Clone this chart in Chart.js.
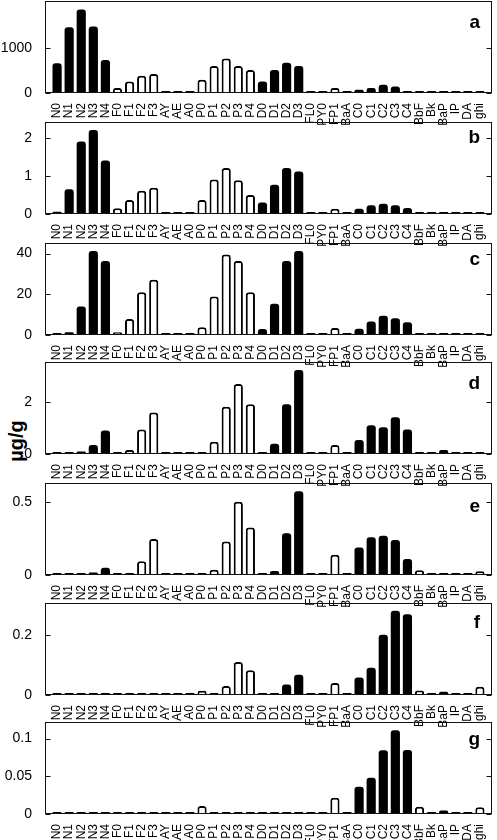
<!DOCTYPE html>
<html>
<head>
<meta charset="utf-8">
<script src="https://cdn.jsdelivr.net/npm/chart.js@4.4.1/dist/chart.umd.min.js"></script>
<style>
  body { margin: 0; background: #fff; }
  #fig { position: relative; width: 497px; height: 840px; overflow: hidden; font-family: 'Liberation Sans', Arial, Helvetica, sans-serif; }
  .panel { position: absolute; left: 0; }
  .tag { position: absolute; right: 17px; font-weight: bold; font-size: 19px; line-height: 20px; color: #000; }
  #ylab { position: absolute; left: -14px; top: 431px; width: 60px; text-align: center; font-weight: bold; font-size: 20px; line-height: 20px; transform: rotate(-90deg); }
</style>
</head>
<body>
<div id="fig">
  <div id="ylab">µg/g</div>
</div>
<script>
const compounds = ['N0','N1','N2','N3','N4','F0','F1','F2','F3','AY','AE','A0',
  'P0','P1','P2','P3','P4','D0','D1','D2','D3','FL0','PY0','FP1','BaA',
  'C0','C1','C2','C3','C4','BbF','Bk','BaP','IP','DA','ghi'];

// bars drawn hollow (white with black edge)
const hollow = ['F0','F1','F2','F3','P0','P1','P2','P3','P4','FP1','BbF','ghi'];

const panelA = [657, 1460, 1850, 1475, 730, 110, 255, 380, 423, 5, 20, 5,
  292, 600, 767, 600, 511, 255, 511, 672, 600, 28, 36, 110, 21,
  73, 110, 183, 146, 10, 10, 5, 5, 10, 10, 5];
const panelB = [0.06, 0.65, 1.91, 2.21, 1.41, 0.15, 0.37, 0.61, 0.69, 0.05, 0.02, 0.02,
  0.37, 0.91, 1.21, 0.89, 0.50, 0.30, 0.77, 1.21, 1.12, 0.02, 0.03, 0.14, 0.03,
  0.14, 0.23, 0.27, 0.23, 0.16, 0.01, 0.03, 0.05, 0.01, 0.01, 0.03];
const panelC = [0.3, 1.3, 14, 41.3, 36.4, 1.3, 7.9, 21, 27.2, 0.3, 0.3, 0.3,
  3.8, 18.9, 39.5, 36.4, 21, 3, 15.3, 36.4, 41.3, 0.3, 0.5, 3.5, 0.3,
  3.1, 6.6, 9.5, 8.2, 6.3, 0.5, 0.2, 1, 0.2, 0.2, 0.3];
const panelD = [0.01, 0.04, 0.1, 0.34, 0.9, 0.01, 0.15, 0.94, 1.59, 0.01, 0.01, 0.04,
  0.08, 0.47, 1.81, 2.68, 1.9, 0.04, 0.39, 1.9, 3.21, 0.04, 0.04, 0.34, 0.02,
  0.54, 1.1, 1.02, 1.41, 0.94, 0.01, 0.01, 0.15, 0.01, 0.01, 0.05];
const panelE = [0.002, 0.005, 0.009, 0.018, 0.05, 0.002, 0.009, 0.095, 0.247, 0.002, 0.002, 0.002,
  0.009, 0.036, 0.23, 0.504, 0.327, 0.009, 0.027, 0.288, 0.577, 0.009, 0.002, 0.14, 0.002,
  0.19, 0.259, 0.27, 0.24, 0.11, 0.032, 0.002, 0.007, 0.002, 0.009, 0.025];
const panelF = [0.005, 0.001, 0.001, 0.001, 0.001, 0.001, 0.001, 0.001, 0.001, 0.001, 0.001, 0.001,
  0.014, 0.001, 0.03, 0.109, 0.082, 0.001, 0.001, 0.035, 0.067, 0.001, 0.001, 0.04, 0.001,
  0.058, 0.09, 0.2, 0.279, 0.268, 0.015, 0.001, 0.011, 0.001, 0.001, 0.027];
const panelG = [0.0003, 0.0003, 0.0003, 0.0003, 0.0003, 0.0003, 0.0003, 0.0003, 0.0003, 0.0003, 0.0003, 0.0003,
  0.0106, 0.0003, 0.0003, 0.0003, 0.0003, 0.0003, 0.0003, 0.0003, 0.0003, 0.0003, 0.0003, 0.0216, 0.0005,
  0.036, 0.048, 0.0845, 0.111, 0.085, 0.0097, 0.0004, 0.0048, 0.0004, 0.0004, 0.0088];

const ticksA = [0, 1000];
const ticksB = [0, 1, 2];
const ticksC = [0, 20, 40];
const ticksD = [0, 2];
const ticksE = [0, 0.5];
const ticksF = [0, 0.2];
const ticksG = [0, 0.05, 0.1];

const panelNames = ['a', 'b', 'c', 'd', 'e', 'f', 'g'];
const panelData = [panelA, panelB, panelC, panelD, panelE, panelF, panelG];
const panelTicks = [ticksA, ticksB, ticksC, ticksD, ticksE, ticksF, ticksG];
const panelMax = [2040, 2.42, 45.2, 3.52, 0.633, 0.305, 0.122];

// layout (pixels)
const panelTop = [1, 122, 243, 362, 483, 603, 722];
const tagBaseline = [28, 22, 23, 28, 30, 26, 24];
const plotH = 92, padTop = 4, xAxisH = 32;
const FONT = "'Liberation Sans', Arial, Helvetica, sans-serif";

// box around plot area + inward tick marks on both sides
const framePlugin = {
  id: 'frame',
  afterDraw(chart) {
    const { ctx, chartArea: a } = chart;
    const ys = chart.scales.y;
    const l = Math.round(a.left) + 0.5, r = Math.round(a.right) - 0.5;
    const t = Math.round(a.top) + 0.5, b = Math.round(a.bottom) - 0.5;
    ctx.save();
    ctx.strokeStyle = '#111';
    ctx.lineWidth = 1;
    ctx.strokeRect(l, t, r - l, b - t);
    ctx.beginPath();
    ys.ticks.forEach(tk => {
      const y = Math.round(ys.getPixelForValue(tk.value)) + 0.5;
      ctx.moveTo(l, y); ctx.lineTo(l + 5, y);
      ctx.moveTo(r, y); ctx.lineTo(r - 5, y);
    });
    ctx.stroke();
    ctx.restore();
  }
};

const fig = document.getElementById('fig');
const labels = ['', ...compounds, ''];

panelData.forEach((vals, i) => {
  const box = document.createElement('div');
  box.className = 'panel';
  box.style.top = (panelTop[i] - padTop) + 'px';
  const cv = document.createElement('canvas');
  cv.width = 497;
  cv.height = padTop + plotH + xAxisH;
  box.appendChild(cv);
  fig.appendChild(box);

  const tag = document.createElement('div');
  tag.className = 'tag';
  tag.textContent = panelNames[i];
  tag.style.top = (panelTop[i] + tagBaseline[i] - 17) + 'px';
  fig.appendChild(tag);

  const tickVals = panelTicks[i];
  new Chart(cv.getContext('2d'), {
    type: 'bar',
    data: {
      labels: labels,
      datasets: [{
        data: [null, ...vals, null],
        backgroundColor: labels.map(c => hollow.includes(c) ? '#fff' : '#000'),
        borderColor: '#000',
        borderWidth: labels.map(c => hollow.includes(c) ? 2 : 0),
        borderRadius: 3,
        borderSkipped: 'start',
        barPercentage: 0.76,
        categoryPercentage: 1,
        minBarLength: 2
      }]
    },
    options: {
      responsive: false,
      animation: false,
      layout: { padding: { top: padTop, right: 5, left: 0, bottom: 0 } },
      plugins: { legend: { display: false }, tooltip: { enabled: false } },
      scales: {
        x: {
          type: 'category',
          offset: false,
          grid: { display: false },
          border: { display: false },
          ticks: {
            autoSkip: false, maxRotation: 90, minRotation: 90, padding: 2,
            color: '#000', font: { size: 12, family: FONT }
          },
          afterFit: s => { s.height = xAxisH; s.paddingLeft = 0; s.paddingRight = 0; }
        },
        y: {
          min: 0,
          max: panelMax[i],
          grid: { display: false },
          border: { display: false },
          ticks: {
            padding: 5, color: '#000', font: { size: 14, family: FONT },
            callback: v => String(+v.toFixed(4))
          },
          afterBuildTicks: s => { s.ticks = tickVals.map(v => ({ value: v })); },
          afterFit: s => { s.width = 45; s.paddingTop = 0; s.paddingBottom = 0; }
        }
      }
    },
    plugins: [framePlugin]
  });
});
</script>
</body>
</html>
